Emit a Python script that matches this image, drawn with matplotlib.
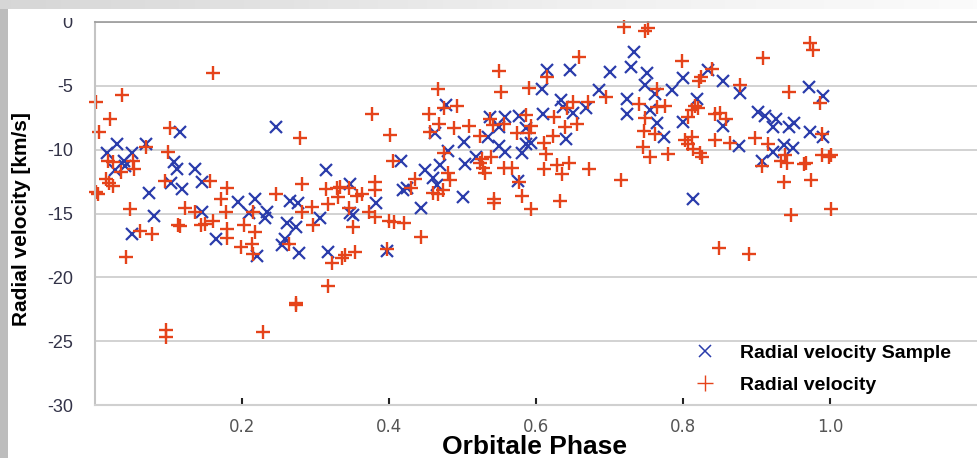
import matplotlib
matplotlib.use("Agg")
import matplotlib.pyplot as plt
import numpy as np
from matplotlib.lines import Line2D
from matplotlib.patches import Rectangle

plt.rcParams['font.family'] = ['Liberation Sans', 'DejaVu Sans']
plt.rcParams['axes.unicode_minus'] = False

# Radial velocity Sample (blue crosses)
sample_phase = [
    0.116, 0.246, 0.016, 0.030, 0.051, 0.070, 0.039, 0.041, 0.027, 0.107,
    0.111, 0.136, 0.103, 0.119, 0.145, 0.073, 0.194, 0.218, 0.265, 0.276,
    0.314, 0.080, 0.145, 0.209, 0.234, 0.231, 0.261, 0.306, 0.050, 0.165,
    0.220, 0.259, 0.255, 0.278, 0.273, 0.317,
    0.734, 0.615, 0.646, 0.701, 0.729, 0.751, 0.608, 0.686, 0.748, 0.478,
    0.634, 0.637, 0.651, 0.668, 0.724, 0.724, 0.609, 0.537, 0.558, 0.577,
    0.550, 0.587, 0.641, 0.586, 0.593, 0.581, 0.558, 0.549, 0.535, 0.463,
    0.502, 0.480, 0.519, 0.503, 0.575, 0.500, 0.444, 0.469, 0.449, 0.460,
    0.465, 0.417, 0.419, 0.424, 0.347, 0.347, 0.351, 0.382, 0.397,
    0.834, 0.800, 0.855, 0.877, 0.762, 0.785, 0.971, 0.990, 0.819, 0.755,
    0.764, 0.800, 0.854, 0.902, 0.912, 0.927, 0.923, 0.944, 0.951, 0.973,
    0.990, 0.774, 0.876, 0.937, 0.950, 0.923, 0.907, 0.814,
]
sample_rv = [
    -8.59, -8.20, -10.28, -9.55, -10.23, -9.55, -10.88, -11.25, -11.59, -10.99,
    -11.51, -11.54, -12.58, -13.10, -12.50, -13.37, -14.10, -13.89, -14.02, -14.20,
    -11.59, -15.19, -14.85, -14.93, -14.90, -15.37, -15.72, -15.37, -16.60, -17.00,
    -18.32, -17.00, -17.46, -18.11, -16.08, -18.03,
    -2.37, -3.76, -3.76, -3.94, -3.55, -4.02, -5.27, -5.32, -4.93, -6.50,
    -6.11, -6.63, -7.10, -6.71, -6.05, -7.23, -7.23, -7.46, -7.41, -7.36,
    -8.20, -8.33, -9.19, -9.55, -9.45, -10.28, -10.20, -9.71, -8.98, -8.67,
    -9.37, -10.08, -10.55, -11.14, -12.45, -13.68, -14.59, -11.20, -11.59, -12.24,
    -12.76, -10.86, -13.16, -13.02, -12.71, -14.98, -15.11, -14.20, -17.90,
    -3.76, -4.41, -4.62, -5.58, -5.64, -5.32, -5.11, -5.77, -6.03, -6.89,
    -7.93, -7.85, -8.14, -7.02, -7.36, -7.60, -8.25, -8.25, -7.93, -8.64,
    -9.03, -8.98, -9.69, -9.63, -9.89, -10.15, -10.86, -13.86,
]

# Radial velocity (red plus signs)
rv_phase = [
    0.002, 0.037, 0.020, 0.005, 0.102, 0.279, 0.161, 0.069, 0.099, 0.018,
    0.024, 0.052, 0.053, 0.036, 0.095, 0.156, 0.015, 0.019, 0.025, 0.001,
    0.004, 0.180, 0.171, 0.246, 0.281, 0.314, 0.048, 0.122, 0.136, 0.178,
    0.215, 0.281, 0.295, 0.317, 0.297, 0.161, 0.144, 0.150, 0.113, 0.116,
    0.061, 0.078, 0.042, 0.179, 0.179, 0.199, 0.213, 0.218, 0.215, 0.203,
    0.264, 0.322, 0.317, 0.273, 0.273, 0.096, 0.096, 0.229,
    0.720, 0.748, 0.753, 0.659, 0.615, 0.549, 0.552, 0.590, 0.695, 0.467,
    0.377, 0.475, 0.493, 0.454, 0.651, 0.671, 0.642, 0.740, 0.748, 0.624,
    0.586, 0.537, 0.542, 0.556, 0.593, 0.574, 0.590, 0.639, 0.656, 0.623,
    0.611, 0.613, 0.524, 0.489, 0.509, 0.468, 0.456, 0.401, 0.475, 0.526,
    0.524, 0.528, 0.539, 0.530, 0.557, 0.568, 0.577, 0.611, 0.629, 0.635,
    0.645, 0.672, 0.716, 0.581, 0.593, 0.632, 0.543, 0.543, 0.480, 0.483,
    0.435, 0.473, 0.460, 0.467, 0.405, 0.430, 0.329, 0.334, 0.346, 0.356,
    0.363, 0.381, 0.381, 0.331, 0.345, 0.373, 0.381, 0.400, 0.407, 0.421,
    0.351, 0.444, 0.336, 0.340, 0.354, 0.397,
    0.973, 0.977, 0.909, 0.798, 0.840, 0.824, 0.822, 0.878, 0.764, 0.944,
    0.986, 0.816, 0.812, 0.821, 0.765, 0.776, 0.807, 0.844, 0.850, 0.858,
    0.989, 0.747, 0.762, 0.746, 0.755, 0.780, 0.803, 0.812, 0.807, 0.814,
    0.823, 0.826, 0.844, 0.864, 0.898, 0.916, 0.908, 0.939, 0.934, 0.941,
    0.964, 0.967, 0.989, 0.998, 1.002, 0.938, 0.974, 0.947, 1.002, 0.849,
    0.890,
]
rv_value = [
    -6.30, -5.72, -7.60, -8.59, -8.33, -9.11, -4.02, -9.76, -10.15, -10.88,
    -10.99, -10.86, -11.51, -11.72, -12.45, -12.45, -12.29, -12.63, -12.84, -13.30,
    -13.47, -12.97, -13.89, -13.50, -12.69, -13.10, -14.67, -14.54, -14.90, -14.85,
    -14.90, -14.88, -14.51, -14.25, -15.90, -15.58, -15.90, -15.80, -15.90, -16.00,
    -16.37, -16.60, -18.43, -16.20, -16.94, -17.65, -17.41, -16.42, -18.17, -15.90,
    -17.41, -18.85, -20.67, -22.03, -22.20, -24.12, -24.64, -24.30,
    -0.42, -0.68, -0.50, -2.77, -4.33, -3.81, -5.46, -5.19, -5.90, -5.27,
    -7.23, -6.76, -6.58, -7.20, -6.24, -6.24, -6.71, -6.42, -7.54, -7.41,
    -7.28, -7.62, -8.07, -8.01, -8.14, -8.67, -8.72, -8.20, -8.01, -8.93,
    -9.45, -10.34, -8.93, -8.27, -8.14, -8.01, -8.59, -8.85, -10.23, -10.73,
    -11.07, -11.46, -10.55, -11.85, -11.46, -11.46, -12.50, -11.54, -11.20, -11.90,
    -11.07, -11.54, -12.37, -13.63, -14.64, -13.99, -13.89, -14.20, -11.85, -12.37,
    -12.29, -13.16, -13.37, -13.47, -10.86, -13.02, -13.02, -12.90, -13.02, -13.60,
    -13.50, -12.50, -13.16, -13.68, -14.59, -14.85, -15.24, -15.58, -15.64, -15.72,
    -16.03, -16.81, -18.50, -18.25, -17.99, -17.80,
    -1.62, -2.19, -2.84, -3.05, -3.70, -4.33, -4.60, -4.93, -5.27, -5.51,
    -6.32, -6.58, -6.89, -6.76, -6.68, -6.58, -7.41, -7.23, -7.15, -7.60,
    -8.77, -8.54, -8.77, -9.76, -10.55, -10.34, -9.24, -8.98, -9.55, -9.95,
    -10.28, -10.55, -9.24, -9.45, -9.06, -9.58, -11.25, -10.41, -10.86, -11.02,
    -11.15, -11.07, -10.41, -10.55, -10.41, -12.55, -12.37, -15.11, -14.64, -17.67,
    -18.17,
]

y_ticks = [-30, -25, -20, -15, -10, -5, 0]
x_ticks = [0.2, 0.4, 0.6, 0.8, 1.0]
x_tick_labels = ['0.2', '0.4', '0.6', '0.8', '1.0']

blue = '#2a3cab'
red = '#e5431a'

W, H = 977, 458
fig = plt.figure(figsize=(W / 100, H / 100), dpi=100)
ax = fig.add_axes([95 / W, 53 / H, 882 / W, 383 / H])

ax.plot(sample_phase, sample_rv, ls='none', marker='x', ms=8.5, mew=1.6,
        color=blue, label='Radial velocity Sample', clip_on=False)
ax.plot(rv_phase, rv_value, ls='none', marker='+', ms=10, mew=1.7,
        color=red, label='Radial velocity', clip_on=False)

ax.set_xlim(0, 1.2)
ax.set_ylim(-30, 0)
ax.set_yticks(y_ticks)
ax.set_xticks(x_ticks)
ax.set_xticklabels(x_tick_labels)
ax.yaxis.grid(True, color='#cfcfcf', lw=1.3)
ax.set_axisbelow(True)

ax.spines['right'].set_visible(False)
ax.spines['top'].set_color('#9a9a9a')
ax.spines['top'].set_linewidth(1.2)
ax.spines['left'].set_color('#c4c4c4')
ax.spines['left'].set_linewidth(1.5)
ax.spines['bottom'].set_color('#d0d0d0')
ax.spines['bottom'].set_linewidth(1.5)

ax.tick_params(axis='y', length=0, pad=16, labelsize=13, labelcolor='#333348')
ax.tick_params(axis='x', direction='in', length=5, width=1.5, color='#222222',
               pad=9, labelsize=12, labelcolor='#555555')
for lbl in ax.get_xticklabels():
    lbl.set_fontfamily('DejaVu Sans')

fig.text(22 / W, 1 - 219 / H, 'Radial velocity [km/s]', rotation=90,
         ha='center', va='center', fontsize=15, fontweight='bold')
fig.text(535 / W, 4 / H, 'Orbitale Phase', ha='center', va='baseline',
         fontsize=19, fontweight='bold')

handles = [
    Line2D([], [], ls='none', marker='x', ms=9, mew=1.1, color=blue),
    Line2D([], [], ls='none', marker='+', ms=11, mew=1.0, color=red),
]
ax.legend(handles, ['Radial velocity Sample', 'Radial velocity'],
          loc='upper left', bbox_to_anchor=(695 / W, 1 - 344 / H),
          bbox_transform=fig.transFigure, frameon=False, borderpad=0,
          borderaxespad=0, handlelength=1.0, handletextpad=1.3,
          labelspacing=0.75, prop=dict(weight='bold', size=14))

# slide frame: grey strip on the left, fading band along the top
fig.add_artist(Rectangle((0, 0), 8 / W, 1, transform=fig.transFigure,
                         facecolor='#bdbdbd', edgecolor='none', zorder=5))
fig.add_artist(Rectangle((8 / W, 1 - 18 / H), 86 / W, 9 / H,
                         transform=fig.transFigure, facecolor='white',
                         edgecolor='none', zorder=5))
band = fig.add_axes([0, 1 - 9 / H, 1, 9 / H], zorder=6)
grad = np.linspace(0, 1, 256).reshape(1, -1)
band.imshow(grad, aspect='auto', cmap='Greys_r', vmin=-3.2, vmax=1.15)
band.set_axis_off()

fig.savefig('out.png', dpi=100)
